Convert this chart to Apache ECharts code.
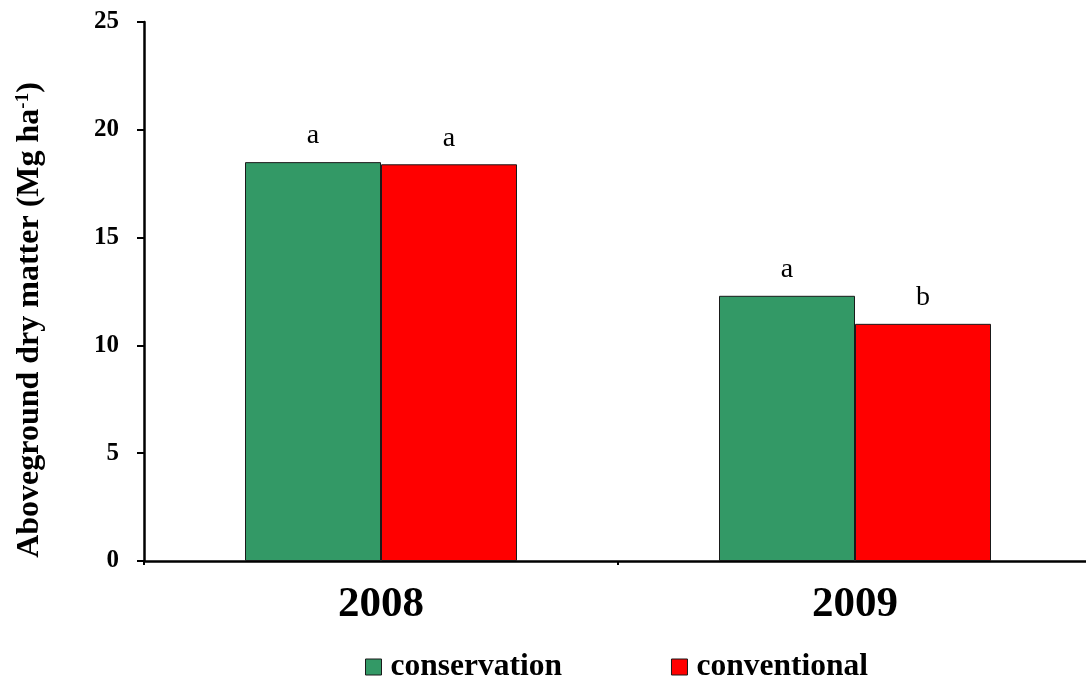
<!DOCTYPE html>
<html>
<head>
<meta charset="utf-8">
<script src="https://cdn.jsdelivr.net/npm/echarts@6/dist/echarts.min.js"></script>
<style>
  html, body { margin: 0; padding: 0; background: #fff; }
  #chart { width: 1086px; height: 686px; }
</style>
</head>
<body>
<div id="chart"></div>
<script>
// Aboveground dry matter by year and tillage system
const years = ['2008', '2009'];
const conservation = [18.5, 12.3];
const conventional = [18.4, 11.0];
const conservationLetters = ['a', 'a'];
const conventionalLetters = ['a', 'b'];
const yTicks = [0, 5, 10, 15, 20, 25];

const serif = '"Liberation Serif", "Times New Roman", serif';

const chart = echarts.init(document.getElementById('chart'));

function letterLabel(letters) {
  return {
    show: true,
    position: 'top',
    distance: 12,
    formatter: p => letters[p.dataIndex],
    fontFamily: serif,
    fontSize: 28,
    color: '#000'
  };
}

chart.setOption({
  animation: false,
  backgroundColor: '#fff',
  grid: { left: 144, top: 22, width: 948, height: 539, containLabel: false, outerBoundsMode: 'none' },
  legend: {
    left: 365,
    top: 651,
    padding: 0,
    itemWidth: 16,
    itemHeight: 16,
    itemGap: 109,
    icon: 'rect',
    itemStyle: { borderColor: '#1a1a1a', borderWidth: 1 },
    textStyle: { fontFamily: serif, fontSize: 31.5, fontWeight: 'bold', color: '#000', padding: [0, 0, 0, 4] },
    data: ['conservation', 'conventional']
  },
  xAxis: {
    type: 'category',
    data: years,
    axisLine: { lineStyle: { color: '#000', width: 2.5 } },
    axisTick: { show: true, length: 4, alignWithLabel: false, lineStyle: { color: '#000', width: 2 } },
    axisLabel: { fontFamily: serif, fontSize: 43, fontWeight: 'bold', color: '#000', margin: 22 }
  },
  yAxis: {
    type: 'value',
    min: 0,
    max: 25,
    interval: 5,
    splitLine: { show: false },
    axisLine: { show: true, lineStyle: { color: '#000', width: 2.5 } },
    axisTick: { show: true, length: 7, lineStyle: { color: '#000', width: 2 } },
    axisLabel: {
      fontFamily: serif, fontSize: 25, fontWeight: 'bold', color: '#000', margin: 25,
      formatter: v => (yTicks.includes(v) ? String(v) : '')
    }
  },
  graphic: [{
    type: 'text',
    x: 30,
    y: 320,
    rotation: Math.PI / 2,
    style: {
      text: 'Aboveground dry matter (Mg ha{sup|-1})',
      fontFamily: serif,
      fontSize: 32,
      fontWeight: 'bold',
      fill: '#000',
      align: 'center',
      verticalAlign: 'middle',
      rich: {
        sup: { fontFamily: serif, fontSize: 19, fontWeight: 'bold', verticalAlign: 'top', padding: [0, 0, 12, 0] }
      }
    }
  }],
  series: [
    {
      name: 'conservation',
      type: 'bar',
      data: conservation,
      barWidth: 136,
      barGap: '0%',
      itemStyle: { color: '#339966', borderColor: '#1a1a1a', borderWidth: 1 },
      label: letterLabel(conservationLetters)
    },
    {
      name: 'conventional',
      type: 'bar',
      data: conventional,
      barWidth: 136,
      barGap: '0%',
      itemStyle: { color: '#ff0000', borderColor: '#1a1a1a', borderWidth: 1 },
      label: letterLabel(conventionalLetters)
    }
  ]
});
</script>
</body>
</html>
